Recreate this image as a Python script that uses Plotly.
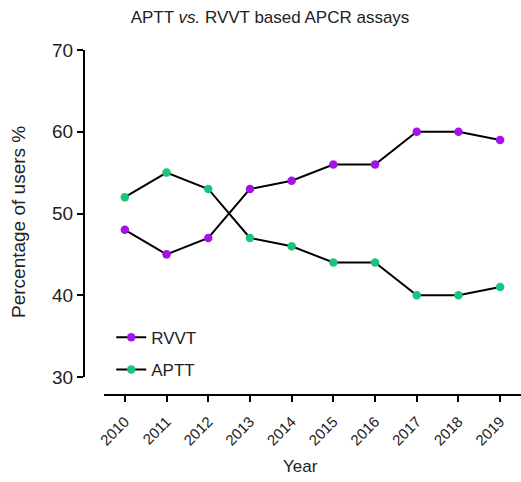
import plotly.graph_objects as go

years = [2010, 2011, 2012, 2013, 2014, 2015, 2016, 2017, 2018, 2019]
rvvt = [48, 45, 47, 53, 54, 56, 56, 60, 60, 59]
aptt = [52, 55, 53, 47, 46, 44, 44, 40, 40, 41]
y_ticks = [30, 40, 50, 60, 70]

FONT = "Liberation Sans, Arial, sans-serif"
TXT = "#222222"
W, H = 521, 482
L, R, T, B = 84, 0, 50, 87
pw, ph = W - L - R, H - T - B

fig = go.Figure()
fig.add_trace(go.Scatter(x=years, y=rvvt, name="RVVT", mode="lines+markers",
                         legendgroup="a",
                         line=dict(color="black", width=2),
                         marker=dict(color="#a512e8", size=8.5)))
fig.add_trace(go.Scatter(x=years, y=aptt, name="APTT", mode="lines+markers",
                         legendgroup="b",
                         line=dict(color="black", width=2),
                         marker=dict(color="#1bc47d", size=8.5)))

fig.update_layout(
    width=W, height=H,
    margin=dict(l=L, r=R, t=T, b=B, autoexpand=False),
    plot_bgcolor="white", paper_bgcolor="white",
    font=dict(family=FONT, color=TXT),
    title=dict(text="APTT <i>vs.</i> RVVT based APCR assays", x=270 / W, xanchor="center",
               y=1 - 17 / H, yanchor="middle", font=dict(size=17, color=TXT)),
    showlegend=True,
    legend=dict(x=0.0623, y=0.218, xanchor="left", yanchor="top",
                font=dict(size=17, color=TXT), tracegroupgap=7,
                bgcolor="rgba(0,0,0,0)"),
    xaxis=dict(domain=[20 / pw, 1], anchor="free", position=0, automargin=False,
               range=[2009.5, 2019.5], tickmode="array", tickvals=years,
               ticktext=[str(y) for y in years], tickangle=-45,
               showline=True, linecolor="black", linewidth=2,
               ticks="outside", ticklen=6, tickwidth=2, tickcolor="black",
               ticklabelstandoff=5,
               showgrid=False, zeroline=False,
               tickfont=dict(size=15, color=TXT)),
    yaxis=dict(domain=[18 / ph, 1], anchor="free", position=0, automargin=False,
               range=[30, 70], tickmode="array", tickvals=y_ticks,
               showline=True, linecolor="black", linewidth=2,
               ticks="outside", ticklen=6, tickwidth=2, tickcolor="black",
               showgrid=False, zeroline=False,
               tickfont=dict(size=19, color=TXT)),
    annotations=[
        dict(text="Year", xref="paper", yref="paper",
             x=(300 - L) / pw, y=(T + ph - 467) / ph, xanchor="center", yanchor="middle",
             showarrow=False, font=dict(size=17, color=TXT)),
        dict(text="Percentage of users %", xref="paper", yref="paper", textangle=-90,
             x=(18 - L) / pw, y=(T + ph - 222) / ph, xanchor="center", yanchor="middle",
             showarrow=False, font=dict(size=19, color=TXT)),
    ],
)

fig.write_html("out.html", config={"displayModeBar": False},
               post_script="document.body.style.margin='0';document.body.style.overflow='hidden';")
